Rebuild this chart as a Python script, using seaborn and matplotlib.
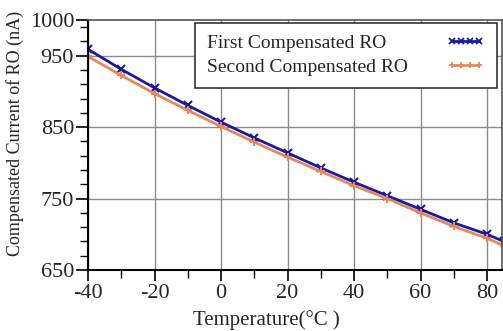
import numpy as np
import pandas as pd
import matplotlib
matplotlib.use("Agg")
import matplotlib.pyplot as plt
from matplotlib.ticker import FixedLocator
import seaborn as sns

temps = [-40, -30, -20, -10, 0, 10, 20, 30, 40, 50, 60, 70, 80, 85]
first_ro = [959, 931, 905, 880.5, 857, 835, 814, 793, 773, 754, 735, 716, 700, 690]
second_ro = [949, 922.5, 897, 873.5, 851, 829, 808, 788, 768, 750, 730, 711, 694.5, 684]
series_names = ["First Compensated RO", "Second Compensated RO"]

df = pd.DataFrame({
    "Temperature": temps * 2,
    "Current": first_ro + second_ro,
    "Series": [series_names[0]] * len(temps) + [series_names[1]] * len(temps),
})

sns.set_style("white")
plt.rcParams["font.family"] = ["Liberation Serif", "DejaVu Serif"]
plt.rcParams["axes.unicode_minus"] = False

fig = plt.figure(figsize=(5.03, 3.31), dpi=100)
ax = fig.add_axes([88 / 503, 1 - 270 / 331, (502 - 88) / 503, (270 - 20) / 331])

colors = {series_names[0]: "#1a1a9e", series_names[1]: "#e4895c"}
sns.lineplot(data=df, x="Temperature", y="Current", hue="Series", style="Series",
             palette=colors, markers={series_names[0]: "x", series_names[1]: "+"},
             dashes=False, linewidth=2.0, markersize=5.5, ax=ax, legend=True)
for ln in ax.lines:
    ln.set_markeredgecolor(ln.get_color())
    ln.set_markeredgewidth(1.5)
    ln.set_linestyle("-")

ax.set_xlim(-40, 84.5)
ax.set_ylim(650, 1000)
ax.xaxis.set_major_locator(FixedLocator([-40, -20, 0, 20, 40, 60, 80]))
ax.xaxis.set_minor_locator(FixedLocator([-30, -10, 10, 30, 50, 70]))
ax.yaxis.set_major_locator(FixedLocator([650, 750, 850, 950, 1000]))
ax.yaxis.set_minor_locator(FixedLocator([670, 690, 710, 730, 770, 790, 810, 830, 870, 890, 910, 930, 970, 990]))
ax.tick_params(axis="y", which="major", direction="out", length=9, width=1.2,
               labelsize=16, pad=1, color="black", left=True)
ax.tick_params(axis="y", which="minor", direction="out", length=6, width=1.0, color="black", left=True)
ax.tick_params(axis="x", which="major", direction="out", length=8, width=1.2,
               labelsize=16, pad=2, color="black", bottom=True)
ax.tick_params(axis="x", which="minor", direction="out", length=6, width=1.0, color="black", bottom=True)

ax.xaxis.grid(True, which="major", color="#8c8c8c", linewidth=1.0)
ax.yaxis.grid(False)
for yv in [750, 850, 950]:
    ax.axhline(yv, color="#8c8c8c", linewidth=1.0, zorder=0)
ax.set_axisbelow(True)

for side in ["left", "bottom"]:
    ax.spines[side].set_color("black")
    ax.spines[side].set_linewidth(1.5)
for side in ["top", "right"]:
    ax.spines[side].set_color("#555555")
    ax.spines[side].set_linewidth(1.2)

ax.set_xlabel("")
ax.set_ylabel("")
fig.text(266 / 503, 1 - 320 / 331, "Temperature(°C )", fontsize=15, ha="center", va="center")
fig.text(15 / 503, 1 - 133 / 331, "Compensated Current of RO (nA)", fontsize=13,
         rotation=90, ha="center", va="center")

handles, labels = ax.get_legend_handles_labels()
for h in handles:
    h.set_markeredgecolor(h.get_color())
    h.set_markeredgewidth(1.3)
    h.set_markersize(4)
    h.set_linestyle("-")
leg = ax.legend(handles, labels, loc="upper left",
                bbox_to_anchor=(195 / 503, 1 - 23 / 331), bbox_transform=fig.transFigure,
                markerfirst=False, numpoints=4, handlelength=2.0, fontsize=14,
                frameon=True, fancybox=False, borderpad=0.6, labelspacing=0.32,
                handletextpad=2.0, borderaxespad=0.0)
leg.get_frame().set_edgecolor("#333333")
leg.get_frame().set_linewidth(1.2)
leg.get_frame().set_alpha(1)

# left-align the legend texts while keeping handles aligned on the right
fig.canvas.draw()
renderer = fig.canvas.get_renderer()
texts = leg.get_texts()
widths = [t.get_window_extent(renderer).width for t in texts]
maxw = max(widths)
column = leg._legend_handle_box.get_children()[0]
rows = column.get_children()
for row, w in zip(rows, widths):
    row.sep = row.sep + (maxw - w) * 72.0 / fig.dpi

fig.savefig("out.png", dpi=100)
